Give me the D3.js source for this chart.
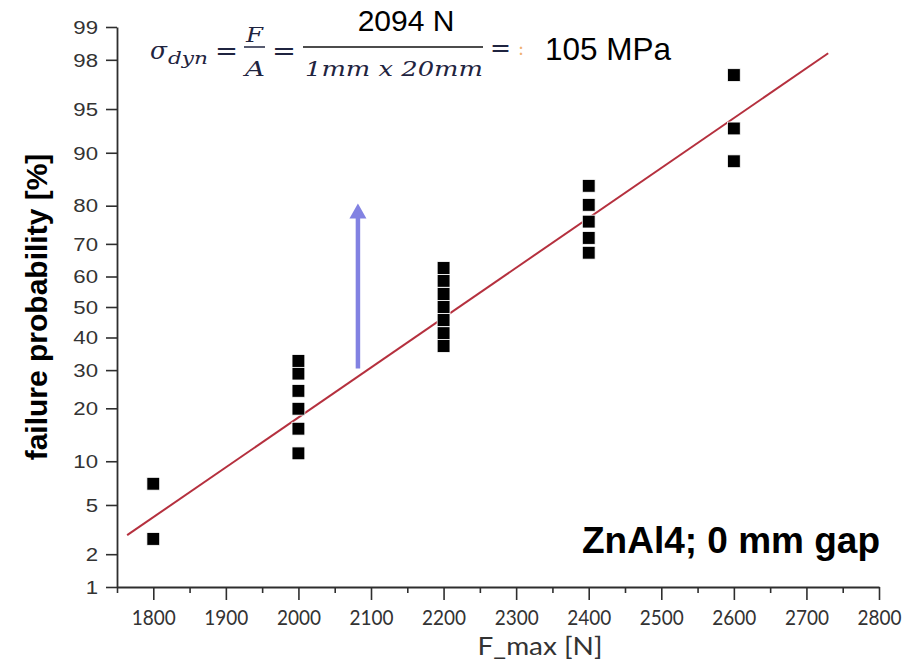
<!DOCTYPE html>
<html><head><meta charset="utf-8">
<script src="https://cdn.jsdelivr.net/npm/d3@7"></script>
<style>html,body{margin:0;padding:0;background:#fff;} svg{display:block;}</style>
</head><body>
<svg id="chart" width="915" height="669"></svg>
<script>
// Failure probability of ZnAl4 specimens (0 mm gap) against peak load, on a normal-probability axis
const forceLevels = [1800, 2000, 2200, 2400, 2600];
const probAt1800 = [2.7, 7.1];
const probAt2000 = [11.2, 15.6, 19.9, 24.3, 29.0, 32.7];
const probAt2200 = [37.3, 41.4, 45.7, 50.0, 54.3, 58.6, 62.7];
const probAt2400 = [67.4, 71.7, 76.1, 80.2, 84.3];
const probAt2600 = [88.7, 93.1, 97.3];
const probGroups = [probAt1800, probAt2000, probAt2200, probAt2400, probAt2600];

// straight fit in probit space, given by its two end points
const fitForce = [1764, 2730];
const fitProb = [2.9, 98.25];

// upward arrow annotation
const arrowForce = 2082;
const arrowProb = [30.5, 80.5];

const xTicks = [1800, 1900, 2000, 2100, 2200, 2300, 2400, 2500, 2600, 2700, 2800];
const xMinorTicks = [1750, 1850, 1950, 2050, 2150, 2250, 2350, 2450, 2550, 2650, 2750];
const yTicks = [1, 2, 5, 10, 20, 30, 40, 50, 60, 70, 80, 90, 95, 98, 99];

// inverse standard normal CDF (Acklam's rational approximation)
function probit(p) {
  const a = [-3.969683028665376e+01, 2.209460984245205e+02, -2.759285104469687e+02, 1.383577518672690e+02, -3.066479806614716e+01, 2.506628277459239e+00];
  const b = [-5.447609879822406e+01, 1.615858368580409e+02, -1.556989798598866e+02, 6.680131188771972e+01, -1.328068155288572e+01];
  const c = [-7.784894002430293e-03, -3.223964580411365e-01, -2.400758277161838e+00, -2.549732539343734e+00, 4.374664141464968e+00, 2.938163982698783e+00];
  const d = [7.784695709041462e-03, 3.224671290700398e-01, 2.445134137142996e+00, 3.754408661907416e+00];
  const pl = 0.02425;
  let q, r;
  if (p < pl) {
    q = Math.sqrt(-2 * Math.log(p));
    return (((((c[0]*q+c[1])*q+c[2])*q+c[3])*q+c[4])*q+c[5]) / ((((d[0]*q+d[1])*q+d[2])*q+d[3])*q+1);
  } else if (p <= 1 - pl) {
    q = p - 0.5; r = q * q;
    return (((((a[0]*r+a[1])*r+a[2])*r+a[3])*r+a[4])*r+a[5])*q / (((((b[0]*r+b[1])*r+b[2])*r+b[3])*r+b[4])*r+1);
  } else {
    q = Math.sqrt(-2 * Math.log(1 - p));
    return -(((((c[0]*q+c[1])*q+c[2])*q+c[3])*q+c[4])*q+c[5]) / ((((d[0]*q+d[1])*q+d[2])*q+d[3])*q+1);
  }
}
const z = pct => probit(pct / 100);

const svg = d3.select('#chart');
const x = d3.scaleLinear().domain([1750, 2800]).range([117, 879]);
const y = d3.scaleLinear().domain([z(1), z(99)]).range([587, 27]);
const AXIS = '#2e2e2e';

// ---- y axis (probability scale)
const yAxis = svg.append('g').attr('transform', `translate(${x(1750)},0)`)
  .call(d3.axisLeft(y).tickValues(yTicks.map(z)).tickSize(11).tickSizeOuter(0)
    .tickFormat((d, i) => yTicks[i]));
yAxis.select('.domain').attr('stroke', AXIS).attr('stroke-width', 1.8);
yAxis.selectAll('.tick line').attr('stroke', AXIS).attr('stroke-width', 1.6);
yAxis.selectAll('.tick text')
  .attr('x', -19 / 1.2).attr('dy', '0.34em')
  .attr('transform', 'scale(1.2,1)')
  .attr('fill', '#333').style('font-family', '"Liberation Sans", Arial, sans-serif').style('font-size', '18.5px');

// ---- x axis: minor then major ticks
const xMinor = svg.append('g').attr('transform', `translate(0,${y(z(1))})`)
  .call(d3.axisBottom(x).tickValues(xMinorTicks).tickSize(6).tickSizeOuter(0).tickFormat(''));
xMinor.select('.domain').remove();
xMinor.selectAll('.tick line').attr('stroke', AXIS).attr('stroke-width', 1.6);

const xAxis = svg.append('g').attr('transform', `translate(0,${y(z(1))})`)
  .call(d3.axisBottom(x).tickValues(xTicks).tickSize(13).tickSizeOuter(0).tickPadding(10).tickFormat(d3.format('d')));
xAxis.select('.domain').attr('stroke', AXIS).attr('stroke-width', 1.8);
xAxis.selectAll('.tick line').attr('stroke', AXIS).attr('stroke-width', 1.6);
xAxis.selectAll('.tick text')
  .attr('fill', '#333').attr('dy', '0.71em')
  .attr('textLength', 44).attr('lengthAdjust', 'spacingAndGlyphs')
  .style('font-family', 'Lato, "Open Sans", sans-serif').style('font-size', '20.5px');

// axis titles
svg.append('text')
  .attr('x', 540).attr('y', 655).attr('text-anchor', 'middle')
  .attr('textLength', 125).attr('lengthAdjust', 'spacingAndGlyphs')
  .attr('fill', '#333').style('font-family', 'Lato, "Open Sans", sans-serif').style('font-size', '25px')
  .text('F_max [N]');

svg.append('text')
  .attr('transform', 'translate(47,307) rotate(-90)').attr('text-anchor', 'middle')
  .attr('fill', '#000').style('font-family', '"Liberation Sans", Arial, sans-serif')
  .style('font-weight', 'bold').style('font-size', '30px')
  .text('failure probability [%]');

// ---- fit line
svg.append('path')
  .datum(fitForce.map((f, i) => [f, fitProb[i]]))
  .attr('d', d3.line().x(d => x(d[0])).y(d => y(z(d[1]))))
  .attr('fill', 'none').attr('stroke', '#b5303e').attr('stroke-width', 2);

// ---- measured points
const pts = forceLevels.flatMap((f, i) => probGroups[i].map(p => ({ f, p })));
const S = 12.8;
svg.append('g').selectAll('rect').data(pts).join('rect')
  .attr('x', d => x(d.f) - S / 2).attr('y', d => y(z(d.p)) - S / 2)
  .attr('width', S).attr('height', S)
  .attr('fill', '#000').attr('stroke', '#fff').attr('stroke-width', 0.8);

// ---- arrow
const ax = x(arrowForce), ay0 = y(z(arrowProb[0])), ay1 = y(z(arrowProb[1]));
const ARROW = '#8282e2';
svg.append('line').attr('x1', ax).attr('x2', ax).attr('y1', ay0).attr('y2', ay1 + 12)
  .attr('stroke', ARROW).attr('stroke-width', 4.5);
svg.append('path')
  .attr('d', `M${ax},${ay1} L${ax - 8.5},${ay1 + 15} L${ax + 8.5},${ay1 + 15} Z`)
  .attr('fill', ARROW);

// ---- stress formula
const MATH = '#1f2440';
const mathFont = '"DejaVu Serif", "Liberation Serif", serif';
const mathParts = [
  { t: 'σ', x0: 150, x1: 167, yb: 59, fs: 24 },
  { t: 'dyn', x0: 168, x1: 208, yb: 64, fs: 17 },
  { t: '=', x0: 215, x1: 238, yb: 60, fs: 26, up: true },
  { t: 'F', x0: 246, x1: 263, yb: 42, fs: 20 },
  { t: 'A', x0: 245, x1: 265, yb: 76, fs: 20 },
  { t: '=', x0: 272, x1: 296, yb: 60, fs: 26, up: true },
  { t: '1mm x 20mm', x0: 305, x1: 483, yb: 76, fs: 19.5 },
  { t: '=', x0: 490, x1: 511, yb: 56, fs: 24, up: true }
];
svg.append('g').selectAll('text').data(mathParts).join('text')
  .attr('x', d => d.x0).attr('y', d => d.yb)
  .attr('textLength', d => d.x1 - d.x0).attr('lengthAdjust', 'spacingAndGlyphs')
  .attr('fill', MATH).style('font-family', mathFont)
  .style('font-style', d => d.up ? 'normal' : 'italic')
  .style('font-size', d => d.fs + 'px')
  .text(d => d.t);
svg.append('line').attr('x1', 244).attr('x2', 265).attr('y1', 47).attr('y2', 47)
  .attr('stroke', MATH).attr('stroke-width', 1.5);
svg.append('line').attr('x1', 303).attr('x2', 483).attr('y1', 47).attr('y2', 47)
  .attr('stroke', '#111').attr('stroke-width', 1.5);
svg.append('text').attr('x', 521).attr('y', 55).attr('text-anchor', 'middle')
  .attr('fill', '#f0b070').style('font-family', mathFont).style('font-size', '18px').text(':');

svg.append('text').attr('x', 406).attr('y', 31).attr('text-anchor', 'middle')
  .attr('fill', '#000').style('font-family', '"Liberation Sans", Arial, sans-serif').style('font-size', '30px')
  .text('2094 N');
svg.append('text').attr('x', 545).attr('y', 60)
  .attr('fill', '#000').style('font-family', '"Liberation Sans", Arial, sans-serif').style('font-size', '31.5px')
  .text('105 MPa');

// ---- specimen label
svg.append('text').attr('x', 582).attr('y', 553)
  .attr('textLength', 298).attr('lengthAdjust', 'spacingAndGlyphs')
  .attr('fill', '#000').style('font-family', '"Liberation Sans", Arial, sans-serif')
  .style('font-weight', 'bold').style('font-size', '36px')
  .text('ZnAl4; 0 mm gap');
</script>
</body></html>
